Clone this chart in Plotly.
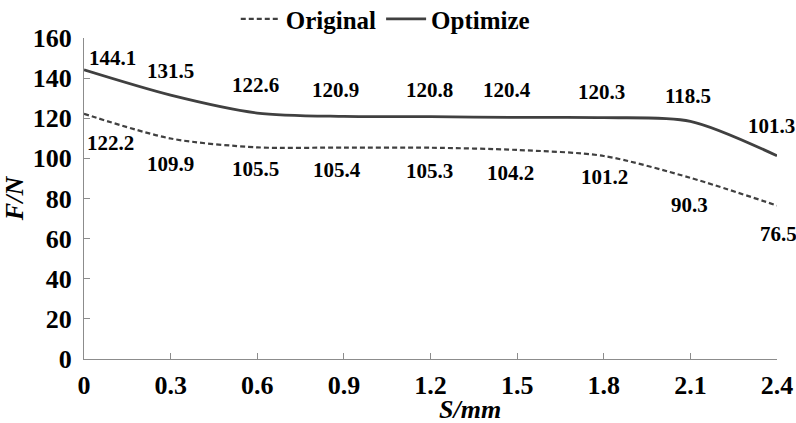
import plotly.graph_objects as go

# ---- data ----
s_mm = [0, 0.3, 0.6, 0.9, 1.2, 1.5, 1.8, 2.1, 2.4]
original = [122.2, 109.9, 105.5, 105.4, 105.3, 104.2, 101.2, 90.3, 76.5]
optimize = [144.1, 131.5, 122.6, 120.9, 120.8, 120.4, 120.3, 118.5, 101.3]
x_ticks = [0, 0.3, 0.6, 0.9, 1.2, 1.5, 1.8, 2.1, 2.4]
x_ticktext = ["0", "0.3", "0.6", "0.9", "1.2", "1.5", "1.8", "2.1", "2.4"]
y_ticks = [0, 20, 40, 60, 80, 100, 120, 140, 160]

# ---- label offsets (pixels) ----
opt_dx = [28, 0, -2, -8, -1, -10, -2, -2, -6]
opt_dy = [12, 24, 28, 26, 27, 27, 26, 25, 30]
ori_dx = [26, 0, -2, -7, -1, -7, 1, -1, 1]
ori_dy = [-29, -25, -22, -22, -23, -23, -21, -27, -28]

FONT = "Liberation Serif, Times New Roman, serif"
LINE_COLOR = "#404040"
AXIS_COLOR = "#8c8c8c"

fig = go.Figure()
fig.add_trace(go.Scatter(
    x=s_mm, y=original, name="Original", mode="lines",
    line=dict(color=LINE_COLOR, width=2.2, dash="5px,3px", shape="spline", smoothing=0.8),
))
fig.add_trace(go.Scatter(
    x=s_mm, y=optimize, name="Optimize", mode="lines",
    line=dict(color=LINE_COLOR, width=2.8, shape="spline", smoothing=0.8),
))

annotations = []
for xv, yv, dx, dy in zip(s_mm, optimize, opt_dx, opt_dy):
    annotations.append(dict(x=xv, y=yv, xref="x", yref="y", text=f"{yv:.1f}",
                            showarrow=False, xshift=dx, yshift=dy,
                            font=dict(family=FONT, size=21, color="black", weight="bold")))
for xv, yv, dx, dy in zip(s_mm, original, ori_dx, ori_dy):
    annotations.append(dict(x=xv, y=yv, xref="x", yref="y", text=f"{yv:.1f}",
                            showarrow=False, xshift=dx, yshift=dy,
                            font=dict(family=FONT, size=21, color="black", weight="bold")))
annotations.append(dict(x=0.557, y=-0.158, xref="paper", yref="paper", text="S/mm",
                        showarrow=False, yanchor="middle",
                        font=dict(family=FONT, size=26, color="black", weight="bold", style="italic")))

fig.update_layout(
    width=796, height=423,
    margin=dict(l=84, r=19, t=38, b=64, autoexpand=False),
    paper_bgcolor="white", plot_bgcolor="white",
    font=dict(family=FONT, size=25, color="black", weight="bold"),
    showlegend=True,
    legend=dict(orientation="h", x=0.484, xanchor="center", xref="container",
                y=0.955, yanchor="middle", yref="container",
                font=dict(family=FONT, size=25, color="black", weight="bold"),
                bgcolor="rgba(0,0,0,0)", itemwidth=40),
    annotations=annotations,
)
fig.update_xaxes(
    range=[0, 2.4], tickvals=x_ticks, ticktext=x_ticktext, automargin=False,
    showgrid=False, zeroline=False, showline=True, linecolor=AXIS_COLOR, linewidth=1,
    ticks="inside", ticklen=6, tickcolor=AXIS_COLOR, ticklabelstandoff=3,
    tickfont=dict(family=FONT, size=26, color="black", weight="bold"),
)
fig.update_yaxes(
    range=[0, 160], tickvals=y_ticks, automargin=False,
    showgrid=False, zeroline=False, showline=True, linecolor=AXIS_COLOR, linewidth=1,
    ticks="inside", ticklen=6, tickcolor=AXIS_COLOR, ticklabelstandoff=6,
    tickfont=dict(family=FONT, size=26, color="black", weight="bold"),
    title=dict(text="F/N", standoff=2,
               font=dict(family=FONT, size=26, color="black", weight="bold", style="italic")),
)

fig.write_html("out.html", config={"displayModeBar": False},
               post_script="document.body.style.margin='0';")
